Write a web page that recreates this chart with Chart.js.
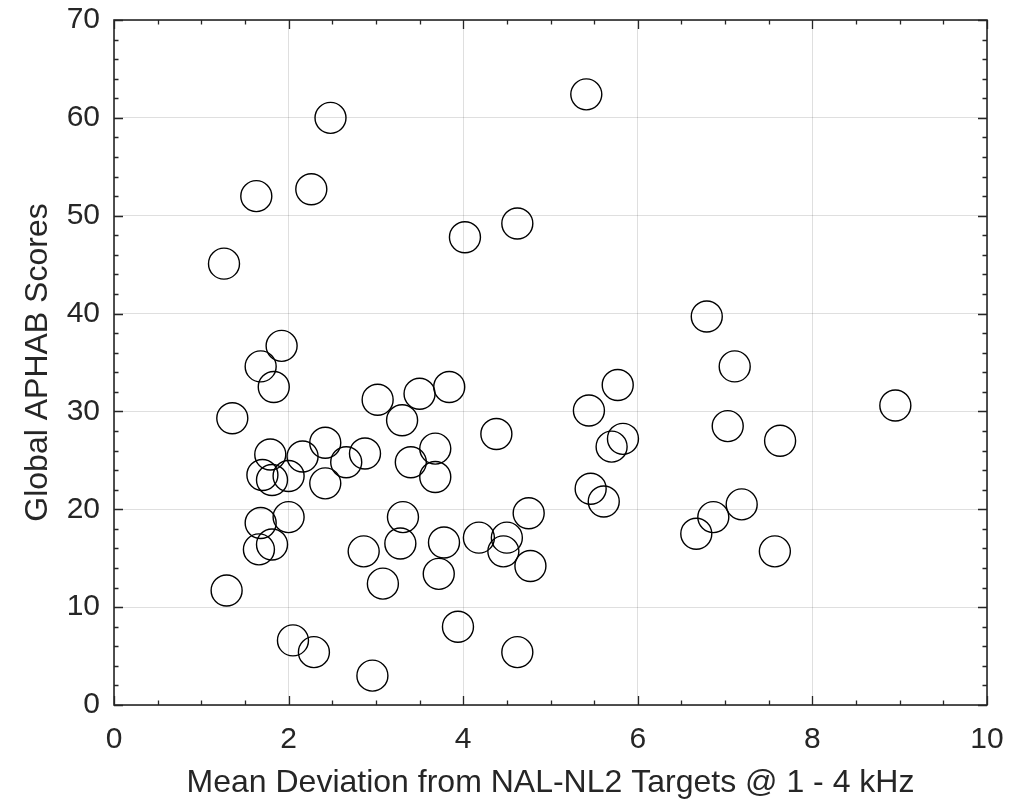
<!DOCTYPE html>
<html>
<head>
<meta charset="utf-8">
<script src="https://cdn.jsdelivr.net/npm/chart.js@4.4.1/dist/chart.umd.min.js"></script>
<style>
  html, body { margin: 0; padding: 0; background: #ffffff; }
  #c { display: block; }
</style>
</head>
<body>
<canvas id="c" width="1033" height="800"></canvas>
<script>
// Mean deviation from NAL-NL2 targets (dB, averaged over 1-4 kHz), one entry per participant
const meanDeviation = [
  2.48, 1.63, 2.26, 1.26, 4.02, 4.62,
  1.92, 1.68, 1.83, 1.355, 3.02, 3.50, 3.84, 3.30, 4.38, 2.42,
  1.79, 2.16, 2.875, 2.66, 3.40, 3.68, 3.68, 1.70, 1.81, 2.00,
  2.42, 2.00, 1.68, 1.81, 1.66, 1.29, 3.31, 3.28, 2.86, 3.08,
  3.78, 3.72, 4.18, 4.50, 4.46, 4.75, 4.77, 3.94, 2.05, 2.29,
  2.96, 4.62,
  5.41, 6.79, 7.11, 5.77, 5.44, 5.83, 5.70, 7.03, 7.63, 8.95,
  5.46, 5.61, 7.19, 6.865, 6.67, 7.57
];

// Global APHAB score for the same participants
const aphabScores = [
  60.0, 52.0, 52.7, 45.1, 47.8, 49.2,
  36.7, 34.6, 32.5, 29.3, 31.2, 31.8, 32.5, 29.1, 27.7, 26.8,
  25.6, 25.4, 25.7, 24.8, 24.8, 26.2, 23.3, 23.5, 23.0, 23.4,
  22.65, 19.2, 18.6, 16.4, 15.9, 11.7, 19.2, 16.5, 15.7, 12.4,
  16.6, 13.4, 17.1, 17.1, 15.7, 19.6, 14.2, 8.0, 6.6, 5.4,
  3.0, 5.4,
  62.4, 39.7, 34.6, 32.7, 30.1, 27.2, 26.4, 28.5, 27.0, 30.6,
  22.1, 20.8, 20.5, 19.2, 17.5, 15.7
];

// Axis tick labels
const xTickLabels = [0, 2, 4, 6, 8, 10];
const yTickLabels = [0, 10, 20, 30, 40, 50, 60, 70];

const xTitle = 'Mean Deviation from NAL-NL2 Targets @ 1 - 4 kHz';
const yTitle = 'Global APHAB Scores';

const ink = '#262626';
const fontFamily = '"Liberation Sans", Arial, Helvetica, sans-serif';

const points = meanDeviation.map((x, i) => ({ x: x, y: aphabScores[i] }));

// Box around the plot area with inward major and minor ticks on all four sides
const boxTicks = {
  id: 'boxTicks',
  afterDraw(chart) {
    const { ctx, chartArea: a, scales: { x, y } } = chart;
    const major = 9, minor = 4.5;
    ctx.save();
    ctx.strokeStyle = ink;
    ctx.lineWidth = 1.3;
    ctx.beginPath();
    const xMin = xTickLabels[0], xMax = xTickLabels[xTickLabels.length - 1];
    const yMin = yTickLabels[0], yMax = yTickLabels[yTickLabels.length - 1];
    const xMinorStep = (xTickLabels[1] - xTickLabels[0]) / 4;
    const yMinorStep = (yTickLabels[1] - yTickLabels[0]) / 5;
    for (let v = xMin; v <= xMax + 1e-9; v += xMinorStep) {
      const isMajor = xTickLabels.some(t => Math.abs(t - v) < 1e-6);
      const len = isMajor ? major : minor;
      const px = Math.round(x.getPixelForValue(v)) + 0.5;
      ctx.moveTo(px, a.bottom); ctx.lineTo(px, a.bottom - len);
      ctx.moveTo(px, a.top); ctx.lineTo(px, a.top + len);
    }
    for (let v = yMin; v <= yMax + 1e-9; v += yMinorStep) {
      const isMajor = yTickLabels.some(t => Math.abs(t - v) < 1e-6);
      const len = isMajor ? major : minor;
      const py = Math.round(y.getPixelForValue(v)) + 0.5;
      ctx.moveTo(a.left, py); ctx.lineTo(a.left + len, py);
      ctx.moveTo(a.right, py); ctx.lineTo(a.right - len, py);
    }
    ctx.stroke();
    ctx.lineWidth = 1.6;
    ctx.strokeRect(a.left, a.top, a.right - a.left, a.bottom - a.top);
    ctx.restore();
  }
};

new Chart(document.getElementById('c'), {
  type: 'scatter',
  data: {
    datasets: [{
      data: points,
      pointStyle: 'circle',
      pointRadius: 15.5,
      pointHoverRadius: 15.5,
      borderColor: '#000000',
      backgroundColor: 'rgba(0,0,0,0)',
      borderWidth: 1.4,
      pointBorderWidth: 1.4
    }]
  },
  options: {
    responsive: false,
    animation: false,
    events: [],
    layout: { padding: { top: 20, right: 46, left: 0, bottom: 0 } },
    plugins: {
      legend: { display: false },
      tooltip: { enabled: false }
    },
    scales: {
      x: {
        type: 'linear',
        min: xTickLabels[0],
        max: xTickLabels[xTickLabels.length - 1],
        afterBuildTicks(scale) { scale.ticks = xTickLabels.map(v => ({ value: v })); },
        afterFit(scale) {
          scale.height = 95;
          scale.paddingLeft = 0;
          scale.paddingRight = 0;
        },
        ticks: {
          color: ink,
          padding: 17,
          maxRotation: 0,
          font: { family: fontFamily, size: 30 },
          callback: v => String(v)
        },
        grid: { color: 'rgba(38,38,38,0.15)', lineWidth: 1, drawTicks: false },
        border: { display: false },
        title: {
          display: true,
          text: xTitle,
          color: ink,
          font: { family: fontFamily, size: 32, lineHeight: 1 },
          padding: { top: 0, bottom: 1 }
        }
      },
      y: {
        type: 'linear',
        min: yTickLabels[0],
        max: yTickLabels[yTickLabels.length - 1],
        afterBuildTicks(scale) { scale.ticks = yTickLabels.map(v => ({ value: v })); },
        afterFit(scale) {
          scale.width = 114;
          scale.paddingTop = 0;
          scale.paddingBottom = 0;
        },
        ticks: {
          color: ink,
          padding: 14,
          font: { family: fontFamily, size: 30 },
          callback: v => String(v)
        },
        grid: { color: 'rgba(38,38,38,0.15)', lineWidth: 1, drawTicks: false },
        border: { display: false },
        title: {
          display: true,
          text: yTitle,
          color: ink,
          font: { family: fontFamily, size: 32, lineHeight: 1 },
          padding: { top: 22, bottom: 0 }
        }
      }
    }
  },
  plugins: [boxTicks]
});
</script>
</body>
</html>
